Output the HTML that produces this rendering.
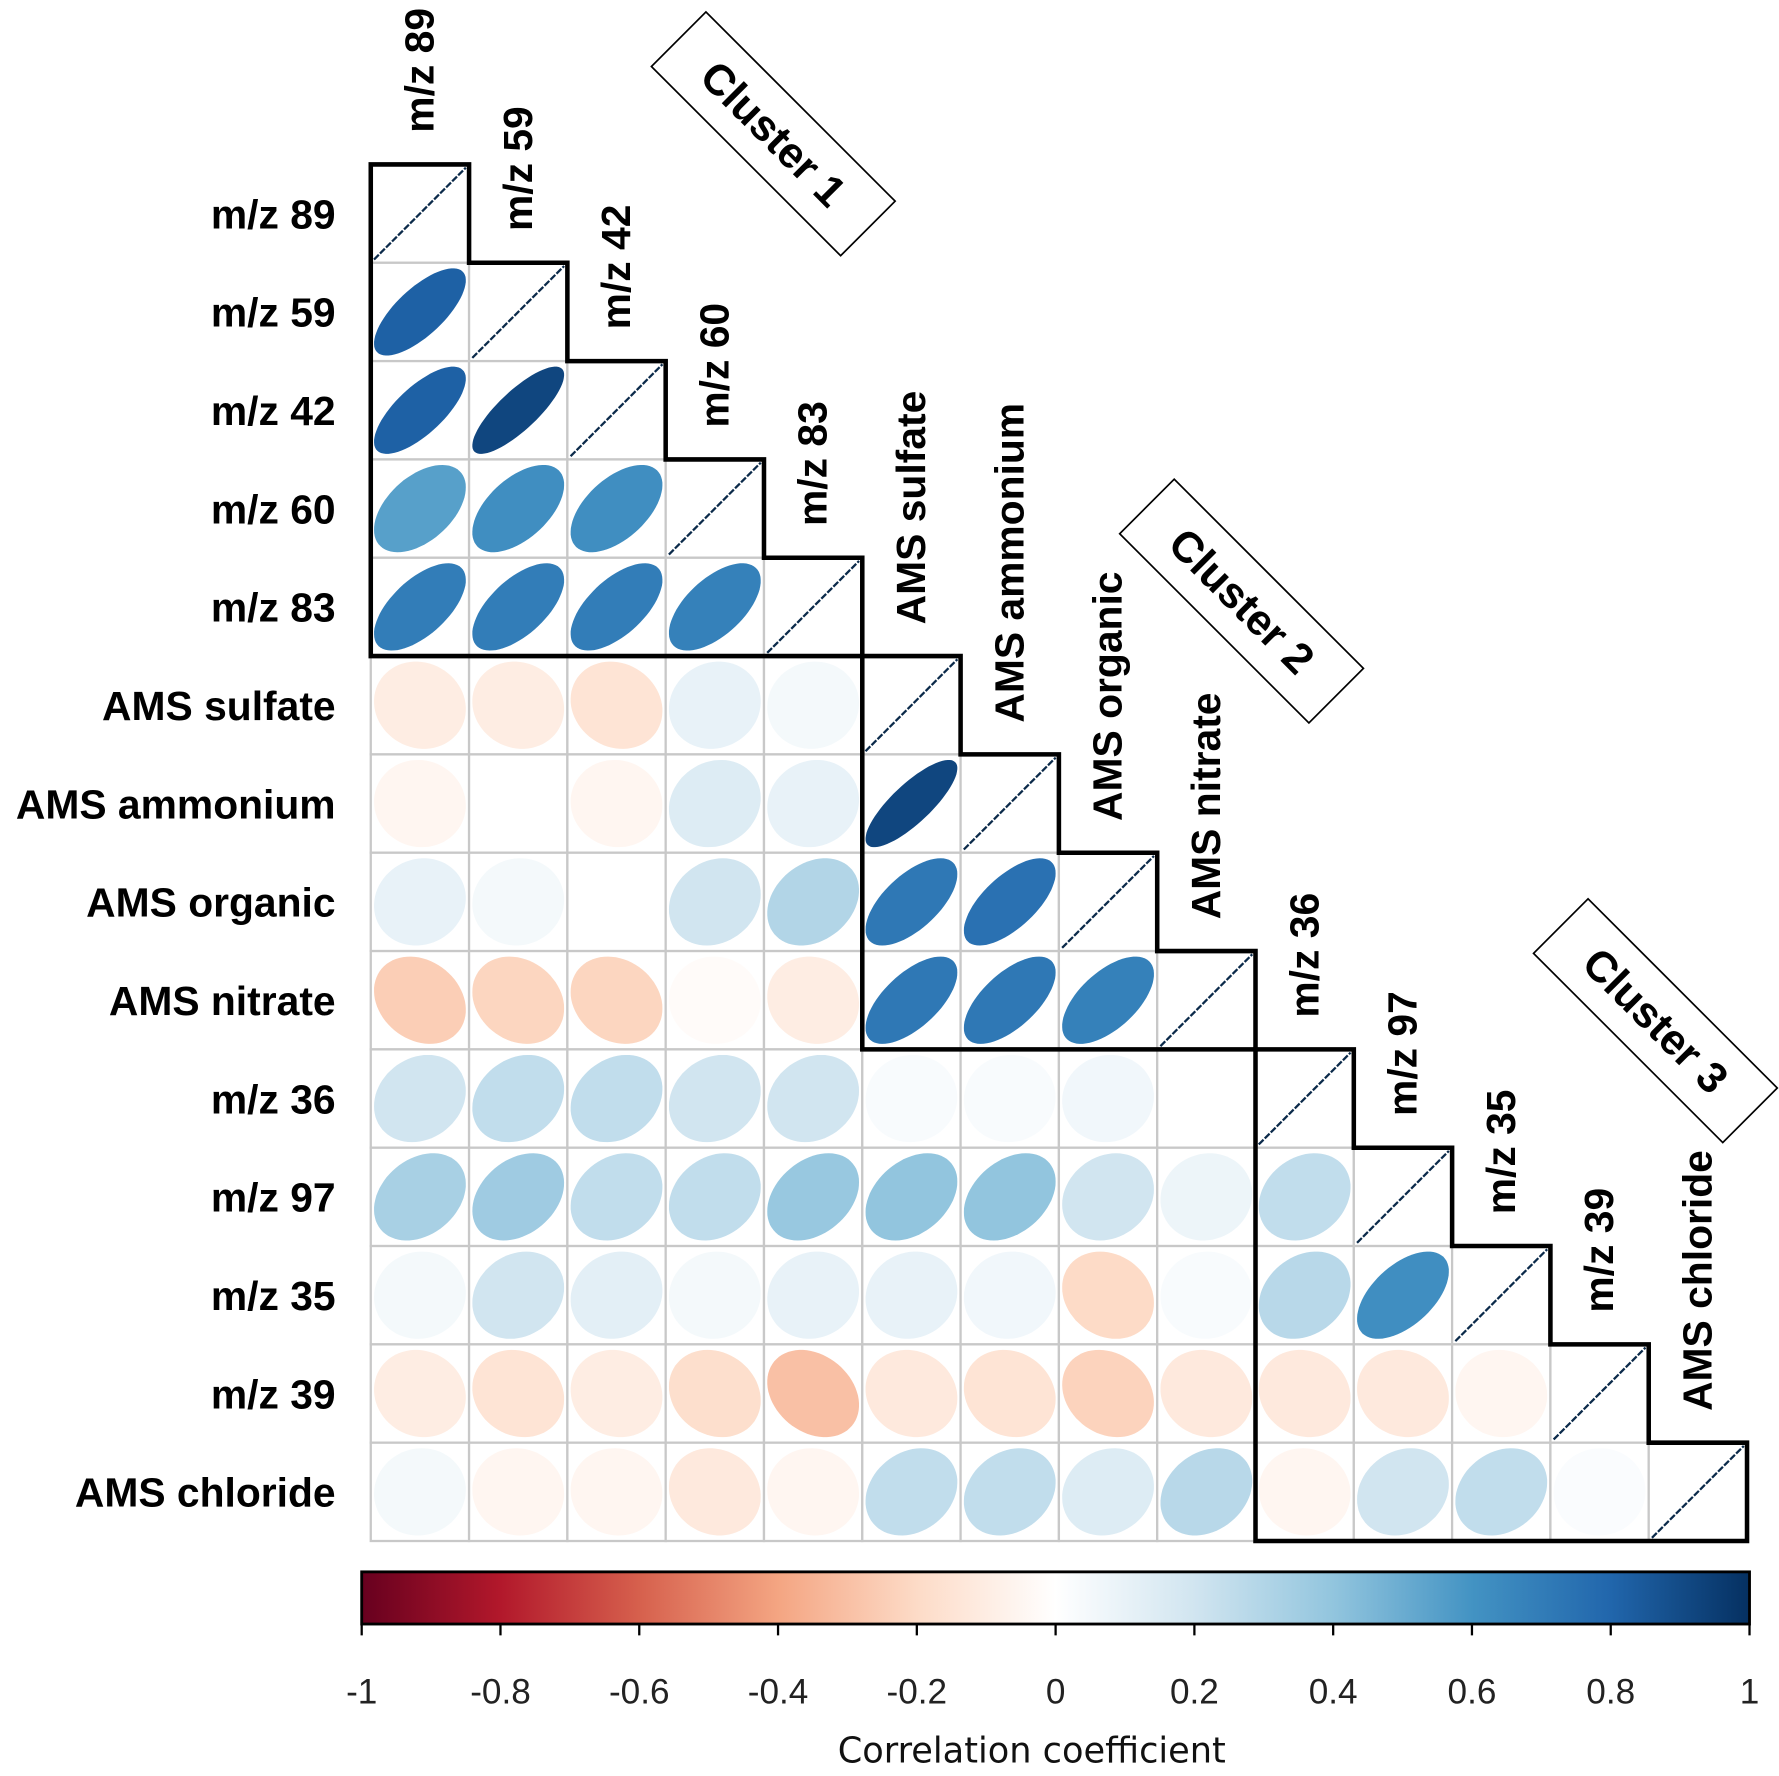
<!DOCTYPE html>
<html><head><meta charset="utf-8"><style>html,body{margin:0;padding:0;background:#fff}svg{display:block}</style></head>
<body>
<svg id="chart" width="1779" height="1776" viewBox="0 0 1569 1566" preserveAspectRatio="none" xmlns="http://www.w3.org/2000/svg" font-family="Liberation Sans, Arial, sans-serif"></svg>
<script>
const labels = ["m/z 89","m/z 59","m/z 42","m/z 60","m/z 83","AMS sulfate","AMS ammonium","AMS organic","AMS nitrate","m/z 36","m/z 97","m/z 35","m/z 39","AMS chloride"];
const corrRows = [
  [],
  [0.82],
  [0.82,0.92],
  [0.55,0.62,0.62],
  [0.7,0.7,0.7,0.68],
  [-0.1,-0.1,-0.15,0.1,0.05],
  [-0.05,0,-0.05,0.15,0.1,0.92],
  [0.1,0.05,0.0,0.2,0.3,0.72,0.75],
  [-0.25,-0.22,-0.22,-0.02,-0.1,0.72,0.72,0.68],
  [0.2,0.25,0.25,0.2,0.2,0.03,0.03,0.06,0.0],
  [0.33,0.36,0.25,0.25,0.38,0.4,0.4,0.2,0.08,0.25],
  [0.05,0.2,0.12,0.05,0.1,0.1,0.06,-0.2,0.03,0.28,0.62],
  [-0.1,-0.15,-0.1,-0.18,-0.3,-0.12,-0.15,-0.23,-0.12,-0.12,-0.12,-0.05],
  [0.05,-0.05,-0.05,-0.12,-0.05,0.25,0.25,0.15,0.28,-0.05,0.2,0.25,0.02]
];
const clusterStart = [0,5,9];
const clusterEnd = [4,8,13];
const clusterNames = ["Cluster 1","Cluster 2","Cluster 3"];
const tickValues = [-1,-0.8,-0.6,-0.4,-0.2,0,0.2,0.4,0.6,0.8,1];
const tickLabels = ["-1","-0.8","-0.6","-0.4","-0.2","0","0.2","0.4","0.6","0.8","1"];
const palette = ["#67001F","#B2182B","#D6604D","#F4A582","#FDDBC7","#FFFFFF","#D1E5F0","#92C5DE","#4393C3","#2166AC","#053061"];

const NS="http://www.w3.org/2000/svg";
const svg=document.getElementById('chart');
function mk(tag,attrs,parent){const e=document.createElementNS(NS,tag);for(const k in attrs)e.setAttribute(k,attrs[k]);(parent||svg).appendChild(e);return e;}
const X0=327,Y0=145,C=86.7,N=labels.length;
const cx=j=>X0+j*C, cy=i=>Y0+i*C;
function hex(h){return [1,3,5].map(k=>parseInt(h.substr(k,2),16));}
function color(r){const t=(r+1)/2*(palette.length-1);const k=Math.min(palette.length-2,Math.floor(t));const f=t-k;const a=hex(palette[k]),b=hex(palette[k+1]);return 'rgb('+a.map((v,q)=>Math.round(v+(b[q]-v)*f)).join(',')+')';}

for(let i=0;i<N;i++){for(let j=0;j<=i;j++){
  const rect=mk('rect',{x:cx(j),y:cy(i),width:C,height:C,fill:'#fff',stroke:'#c8c8c8','stroke-width':2});
  
  
  const r = i===j?1:corrRows[i][j];
  const mx=cx(j)+C/2,my=cy(i)+C/2,k=40.5;
  if(i===j){
    const l=mk('line',{x1:mx-k,y1:my+k,x2:mx+k,y2:my-k,stroke:'#0b2a4a','stroke-width':2,'stroke-dasharray':'6 1.5'});
    
    
  } else {
    const rs=r*0.88;
    const d=Math.acos(Math.max(-1,Math.min(1,rs)));let p='';
    for(let s=0;s<=72;s++){const t=s/72*2*Math.PI;const x=mx+k*Math.cos(t+d/2),y=my-k*0.95*Math.cos(t-d/2);p+=(s?'L':'M')+x.toFixed(1)+','+y.toFixed(1);}
    const e=mk('path',{d:p+'Z',fill:color(r)});
    
    
  }
}}
for(let i=0;i<N;i++){
  const t=mk('text',{x:296,y:cy(i)+C/2+13,'text-anchor':'end','font-size':36,'font-weight':'bold'});
  t.textContent=labels[i];
  
  
  const xx=cx(i)+C/2+12,yy=cy(i)-28;
  const c=mk('text',{x:xx,y:yy,transform:'rotate(-90 '+xx+' '+yy+')','font-size':36,'font-weight':'bold'});
  c.textContent=labels[i];
  
  
}
const clusterPos=[[682,118],[1095,530],[1460,900]];
for(let q=0;q<clusterStart.length;q++){
  const a=clusterStart[q],b=clusterEnd[q];
  let p='M'+cx(a)+','+cy(b+1)+' L'+cx(a)+','+cy(a);
  for(let k=a;k<=b;k++){p+=' H'+cx(k+1)+' V'+cy(k+1);}
  p+=' Z';
  const o=mk('path',{d:p,fill:'none',stroke:'#000','stroke-width':4});
  
  
  const [px,py]=clusterPos[q];
  const g=mk('g',{transform:'translate('+px+','+py+') rotate(45)'});
  
  
  mk('rect',{x:-118,y:-34,width:236,height:68,fill:'#fff',stroke:'#000','stroke-width':1.5},g);
  const t=mk('text',{x:0,y:13,'text-anchor':'middle','font-size':38,'font-weight':'bold'},g);
  t.textContent=clusterNames[q];
}
const BX0=319,BX1=1543,BY0=1386,BY1=1432;
const bx=v=>BX0+(v+1)/2*(BX1-BX0);
const defs=mk('defs',{});
const grad=mk('linearGradient',{id:'cb',x1:0,x2:1,y1:0,y2:0},defs);
palette.forEach((c,k)=>mk('stop',{offset:k/(palette.length-1),'stop-color':c},grad));
const bar=mk('rect',{x:BX0,y:BY0,width:BX1-BX0,height:BY1-BY0,fill:'url(#cb)',stroke:'#000','stroke-width':2.5});


tickValues.forEach((v,k)=>{
  const tk=mk('line',{x1:bx(v),x2:bx(v),y1:BY1,y2:BY1+10,stroke:'#000','stroke-width':2});
  
  
  const t=mk('text',{x:bx(v),y:1502,'text-anchor':'middle','font-size':31,fill:'#222'});
  t.textContent=tickLabels[k];
  
  
});
const ct=mk('text',{x:910,y:1554,'text-anchor':'middle','font-size':31,fill:'#111','font-family':'DejaVu Sans, Liberation Sans, sans-serif'});
ct.textContent='Correlation coefficient';


</script>
</body></html>
